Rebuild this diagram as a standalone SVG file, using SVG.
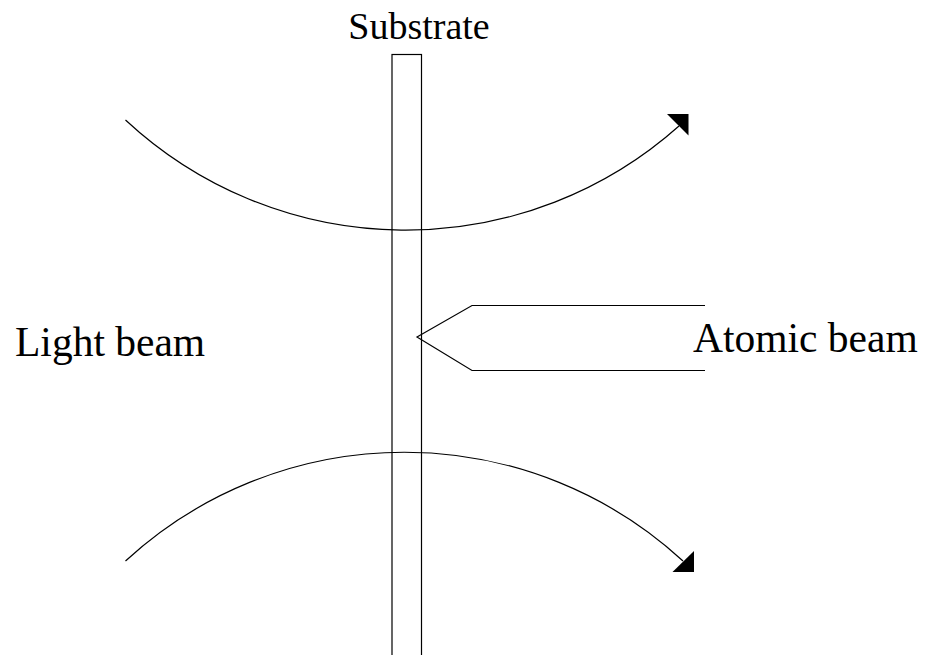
<svg xmlns="http://www.w3.org/2000/svg" width="927" height="655" viewBox="0 0 927 655">
<style>
.ln{fill:none;stroke:#000;stroke-width:1.2}
.ah{fill:#000;stroke:none}
.t{font-family:"Liberation Serif","Times New Roman",serif;fill:#000}
</style>
<rect width="927" height="655" fill="#fff"/>
<g id="substrate">
<rect class="ln" x="392" y="54.5" width="29.5" height="610"/>
<text class="t" x="419" y="38.5" font-size="38" text-anchor="middle">Substrate</text>
</g>
<g id="light-beam">
<text class="t" x="15" y="355.7" font-size="41.5">Light beam</text>
</g>
<g id="atomic-beam">
<polyline class="ln" points="705,305.5 472,305.5 417,337 472,370.5 705,370.5"/>
<text class="t" x="693" y="352" font-size="41.5">Atomic beam</text>
</g>
<g id="connectors">
<path class="ln" d="M125.5,120 A411,411 0 0 0 679,126"/>
<polygon class="ah" points="667,114 688.5,114 688.5,135.5"/>
<path class="ln" d="M125.5,561 A411.6,411.6 0 0 1 683,561"/>
<polygon class="ah" points="672.5,572 694,572 694,551"/>
</g>
</svg>
